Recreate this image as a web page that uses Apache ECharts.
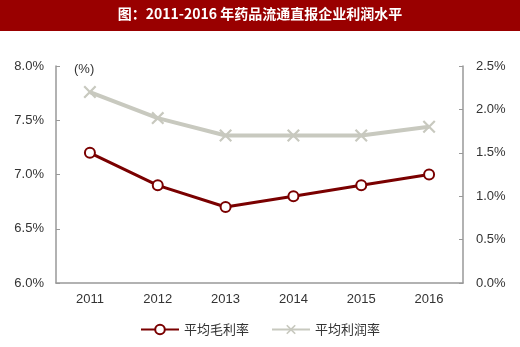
<!DOCTYPE html>
<html><head><meta charset="utf-8">
<script src="https://cdn.jsdelivr.net/npm/echarts@6/dist/echarts.min.js"></script>
<style>html,body{margin:0;padding:0;background:#fff}#c{width:520px;height:347px}</style>
</head><body><div id="c"></div>
<script>
var years = ['2011','2012','2013','2014','2015','2016'];
var grossMargin = [7.2, 6.9, 6.7, 6.8, 6.9, 7.0];
var profitMargin = [2.2, 1.9, 1.7, 1.7, 1.7, 1.8];
var seriesNames = ['平均毛利率', '平均利润率'];
var titleText = '图：2011-2016 年药品流通直报企业利润水平';
var unitText = '(%)';

var xPath = 'path://M0,1.2L1.2,0L5,3.8L8.8,0L10,1.2L6.2,5L10,8.8L8.8,10L5,6.2L1.2,10L0,8.8L3.8,5Z';
var chart = echarts.init(document.getElementById('c'));
var axisLbl = {color:'#333', fontSize:13, fontFamily:'Liberation Sans, Arial'};
chart.setOption({
  animation:false,
  graphic:[
    {type:'rect', left:0, top:0, shape:{width:520, height:31}, style:{fill:'#990000'}},
    {type:'text', left:'center', top:7, style:{text:titleText, fill:'#fff', font:'bold 14px "Noto Sans CJK SC"'}},
    {type:'text', left:74, top:63, style:{text:unitText, fill:'#333', font:'13px "Liberation Sans"'}}
  ],
  grid:{left:56, right:57, top:66, bottom:64},
  legend:{bottom:6, left:'center', itemWidth:38, itemHeight:12, itemGap:22,
    textStyle:{color:'#333', fontSize:13, fontFamily:'"Noto Sans CJK SC"'},
    data:seriesNames},
  xAxis:{type:'category', data:years, boundaryGap:true,
    axisLine:{lineStyle:{color:'#999', width:1.5}},
    axisTick:{inside:true, length:4, lineStyle:{color:'#999'}},
    axisLabel:Object.assign({margin:10}, axisLbl)},
  yAxis:[
    {type:'value', min:6, max:8, interval:0.5, position:'left',
      axisLine:{show:true, lineStyle:{color:'#999', width:1.5}},
      axisTick:{show:true, inside:true, length:4, lineStyle:{color:'#999'}},
      splitLine:{show:false},
      axisLabel:Object.assign({margin:12, formatter:function(v){return v.toFixed(1)+'%';}}, axisLbl)},
    {type:'value', min:0, max:2.5, interval:0.5, position:'right',
      axisLine:{show:true, lineStyle:{color:'#999', width:1.5}},
      axisTick:{show:true, inside:true, length:4, lineStyle:{color:'#999'}},
      splitLine:{show:false},
      axisLabel:Object.assign({margin:13, formatter:function(v){return v.toFixed(1)+'%';}}, axisLbl)}
  ],
  series:[
    {name:seriesNames[0], type:'line', yAxisIndex:0, data:grossMargin,
      symbol:'circle', symbolSize:10, showAllSymbol:true,
      lineStyle:{color:'#7a0000', width:3},
      itemStyle:{color:'#fff', borderColor:'#7a0000', borderWidth:2}},
    {name:seriesNames[1], type:'line', yAxisIndex:1, data:profitMargin,
      symbol:xPath, symbolSize:13,
      lineStyle:{color:'#c8c9bf', width:4},
      itemStyle:{color:'#c8c9bf'}}
  ]
});
</script></body></html>
